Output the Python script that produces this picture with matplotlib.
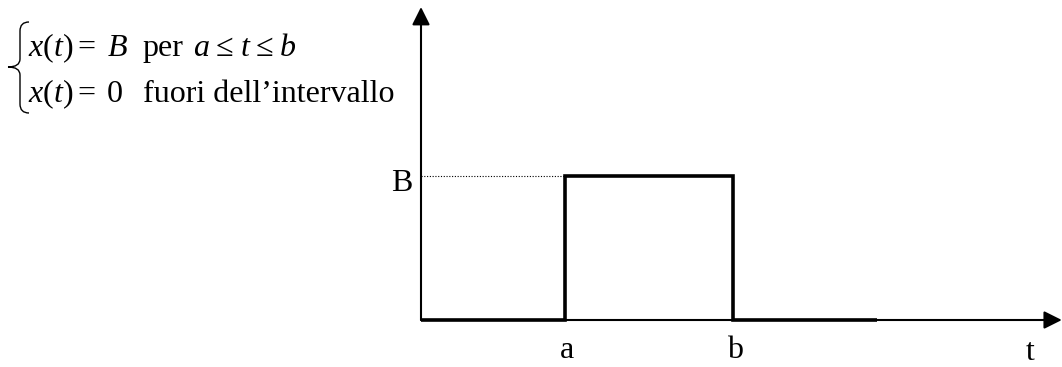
import numpy as np
import matplotlib
matplotlib.use("Agg")
import matplotlib.pyplot as plt
from matplotlib.path import Path
from matplotlib.patches import PathPatch

plt.rcParams.update({
    'font.family': ['Liberation Serif', 'DejaVu Serif'],
    'mathtext.fontset': 'custom',
    'mathtext.rm': 'Liberation Serif',
    'mathtext.it': 'Liberation Serif:italic',
})

# signal values (arbitrary units)
a = 3.0
b = 6.5
B = 3.0
t_end = 9.5
t_axis_max = 13.35
x_axis_max = 6.52

t_pulse = [0, a, a, b, b, t_end]
x_pulse = [0, 0, B, B, 0, 0]

W, H = 1062, 367
fig = plt.figure(figsize=(W / 100, H / 100), dpi=100)
ax = fig.add_axes([0, 0, 1, 1])

# pixel -> data helpers (48 px per unit, origin at (421, 320))
S = 48.0
def px(x):
    return (x - 421) / S
def py(y):
    return (320 - y) / S

ax.set_xlim(px(0), px(W))
ax.set_ylim(py(H), py(0))
ax.axis('off')

# axes with arrows
arrow = dict(arrowstyle='-|>', lw=1.5, color='k', mutation_scale=27,
             shrinkA=0, shrinkB=0)
ax.annotate('', xy=(0, x_axis_max), xytext=(0, 0), arrowprops=arrow,
            annotation_clip=False)
ax.annotate('', xy=(t_axis_max, 0), xytext=(0, 0), arrowprops=arrow,
            annotation_clip=False)

# the rectangular pulse
ax.plot(t_pulse, x_pulse, color='k', lw=2.6, solid_joinstyle='miter',
        solid_capstyle='butt')

# dotted guide for B
ax.plot([0, a], [B, B], color='k', lw=0.8, linestyle=(0, (1, 1.5)))

fs = 23
ax.text(-0.4, B - 0.15, 'B', fontsize=fs, ha='center', va='center')
ax.text(a + 0.05, py(350), 'a', fontsize=fs, ha='center', va='center')
ax.text(b + 0.05, py(350), 'b', fontsize=fs, ha='center', va='center')
ax.text(px(1030), py(352), 't', fontsize=fs, ha='center', va='center')

# formula, piece by piece
line1 = [(28, '$x(t)$'), (77, '='), (107, '$B$'), (142, 'per'),
         (193, '$a$'), (216, '\u2264'), (240, '$t$'), (256, '\u2264'),
         (279, '$b$')]
line2 = [(28, '$x(t)$'), (77, '='), (107, '0'),
         (143, 'fuori dell\u2019intervallo')]
for xp, s in line1:
    ax.text(px(xp), py(56), s, fontsize=fs, ha='left', va='baseline')
for xp, s in line2:
    ax.text(px(xp), py(102), s, fontsize=fs, ha='left', va='baseline')

# brace
pts = [(29, 22), (20, 22), (20, 31), (20, 59), (20, 67), (8, 67),
       (20, 67), (20, 75), (20, 104), (20, 113), (29, 113)]
codes = [Path.MOVETO, Path.CURVE3, Path.CURVE3, Path.LINETO, Path.CURVE3,
         Path.CURVE3, Path.CURVE3, Path.CURVE3, Path.LINETO, Path.CURVE3,
         Path.CURVE3]
verts = [(px(x), py(y)) for x, y in pts]
ax.add_patch(PathPatch(Path(verts, codes), fill=False, lw=1.0, color='k'))

fig.savefig('out.png', dpi=100)
